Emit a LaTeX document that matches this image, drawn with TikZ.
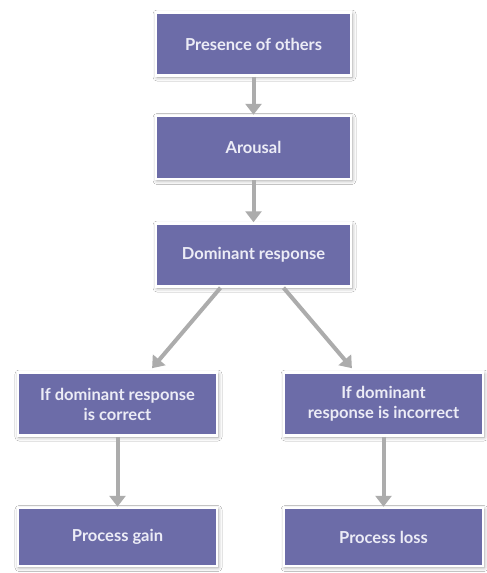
\documentclass[tikz,border=0pt]{standalone}
\usepackage{fontspec}
\setmainfont{Lato}
\usepackage{tikz}
\usetikzlibrary{arrows.meta, positioning, shadows.blur}
\definecolor{boxpurple}{RGB}{108, 108, 168}
\definecolor{boxtext}{RGB}{236, 236, 246}
\definecolor{arrgray}{RGB}{172, 172, 172}

\begin{document}
\begin{tikzpicture}[
  x=1pt, y=-1pt,
  box/.style={draw=white, fill=boxpurple, line width=2.5pt,
              minimum width=195pt, minimum height=63pt,
              text=boxtext, font=\fontsize{16.5}{20}\selectfont\bfseries, align=center,
              blur shadow={shadow xshift=1pt, shadow yshift=-1.5pt,
                           shadow blur radius=4pt, shadow opacity=40}},
  lowbox/.style={box, minimum width=199pt},
  arr/.style={-{Triangle[length=11pt, width=16pt]}, line width=4pt, color=arrgray}
]
  \useasboundingbox (0,0) rectangle (487,573);
  \fill[white] (0,0) rectangle (487,573);

  \node[box] (pres) at (253.5,44) {Presence of others};
  \node[box, below=38pt of pres] (arou) {Arousal};
  \node[box, below=42pt of arou] (dom) {Dominant response};

  \node[lowbox] (ifc) at (117.5,404) {If dominant response\\is correct};
  \node[lowbox] (ifi) at (383.5,404) {If dominant\\response is incorrect};
  \node[lowbox, minimum height=58pt, below=70pt of ifc] (gain) {Process gain};
  \node[lowbox, minimum height=58pt, below=70pt of ifi] (loss) {Process loss};

  \draw[arr] (pres) -- (arou);
  \draw[arr] (arou) -- (dom);
  \draw[arr, shorten >=4pt] ([xshift=-33pt]dom.south) -- ([xshift=32pt]ifc.north);
  \draw[arr, shorten >=4pt] ([xshift=30pt]dom.south) -- ([xshift=-29pt]ifi.north);
  \draw[arr] (ifc) -- (gain);
  \draw[arr] (ifi) -- (loss);
\end{tikzpicture}
\end{document}
